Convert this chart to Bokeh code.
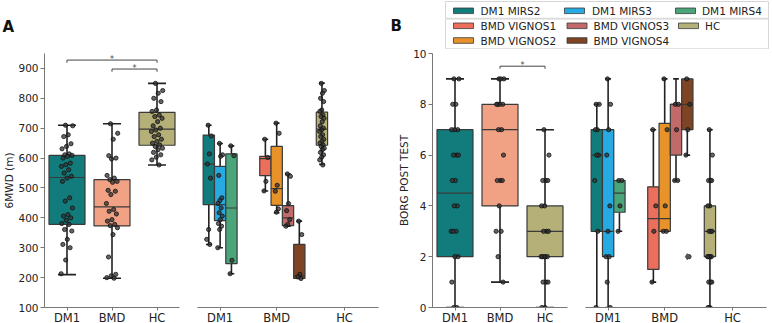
import numpy as np
from bokeh.plotting import figure
from bokeh.layouts import row, column
from bokeh.models import Range1d, FixedTicker, ColumnDataSource
from bokeh.embed import file_html
from bokeh.resources import INLINE
from bokeh.core.properties import value

# ---------------- data ----------------
groups = ["DM1", "BMD", "HC"]
subgroups = ["DM1 MIRS2", "DM1 MIRS3", "DM1 MIRS4",
             "BMD VIGNOS1", "BMD VIGNOS2", "BMD VIGNOS3", "BMD VIGNOS4", "HC"]
group_colors = ["#127c7c", "#f1a284", "#b4b078"]
sub_colors = ["#127c7c", "#27aae1", "#4ba57a", "#ec6f5c",
              "#e8922a", "#c06a6a", "#7e4424", "#b4b078"]

# 6MWD (m) per group: whisker low, Q1, median, Q3, whisker high
mwd_lo = [210, 198, 577]
mwd_q1 = [378, 373, 643]
mwd_med = [535, 437, 697]
mwd_q3 = [609, 528, 753]
mwd_hi = [710, 715, 850]
mwd_pts_dm1 = [710, 708, 678, 672, 648, 639, 631, 614, 611, 609, 606, 600, 583, 578,
               572, 561, 550, 539, 533, 522, 467, 456, 433, 411, 406, 400, 392, 381,
               378, 361, 356, 328, 311, 300, 259, 213]
mwd_pts_bmd = [715, 683, 663, 608, 600, 597, 542, 533, 528, 522, 519, 492, 489, 478,
               448, 428, 422, 413, 394, 389, 378, 374, 367, 344, 269, 211, 206, 200, 198]
mwd_pts_hc = [850, 826, 817, 800, 789, 761, 756, 744, 739, 733, 722, 708, 700, 694,
              689, 678, 672, 663, 656, 650, 644, 639, 633, 628, 619, 611, 603, 594, 577]

# 6MWD per subgroup
mwd_sub_lo = [311, 300, 213, 490, 417, 372, 197, 579]
mwd_sub_q1 = [444, 391, 247, 541, 442, 374, 197, 643]
mwd_sub_med = [580, 444, 433, 598, 498, 400, 206, 697]
mwd_sub_q3 = [677, 572, 614, 606, 639, 441, 311, 754]
mwd_sub_hi = [710, 649, 641, 663, 717, 547, 389, 851]
mwd_sub_pts = [
    [710, 674, 614, 580, 533, 361, 328, 311],
    [649, 611, 606, 542, 467, 458, 448, 433, 417, 406, 394, 381, 372, 361, 300],
    [641, 608, 258, 213],
    [663, 602, 522, 490],
    [717, 683, 509, 489, 430, 419],
    [547, 539, 448, 424, 394, 378, 372],
    [389, 344, 211, 203, 197],
    mwd_pts_hc,
]

# BORG post test per group
borg_lo = [0, 1, 0]
borg_q1 = [2, 4, 2]
borg_med = [4.5, 7, 3]
borg_q3 = [7, 8, 4]
borg_hi = [9, 9, 7]
borg_pts_dm1 = [9, 9, 8, 8, 7, 7, 7, 6, 6, 6, 5, 5, 4, 4, 3, 3, 3, 2, 2, 1, 0, 0]
borg_pts_bmd = [9, 9, 9, 8, 8, 8, 8, 7, 7, 6, 5, 5, 5, 4, 3, 3, 2, 1]
borg_pts_hc = [7, 6, 5, 5, 5, 4, 4, 3, 3, 3, 2, 2, 2, 2, 2, 1, 1, 1, 0, 0]

# BORG per subgroup
borg_sub_lo = [0, 0, 3, 1, 3, 5, 6, 0]
borg_sub_q1 = [3, 2, 3.75, 1.5, 3, 6, 7, 2]
borg_sub_med = [6, 3, 4.5, 3.5, 3.5, 8, 8, 3]
borg_sub_q3 = [7, 7, 5, 4.75, 7.25, 8, 9, 4]
borg_sub_hi = [8, 9, 5, 7, 9, 9, 9, 7]
borg_sub_pts = [
    [8, 8, 7, 7, 6, 6, 5, 3, 0],
    [9, 8, 7, 6, 4, 3, 2, 2, 1, 0],
    [5, 5, 4, 3],
    [7, 4, 3, 1],
    [9, 7, 4, 3, 3],
    [8, 8, 7, 5, 5],
    [9, 8, 7, 6, 2],
    borg_pts_hc,
]
borg_sub_outlier = [None, None, None, None, None, None, 2, None]

# significance brackets: (from group, to group, level)
mwd_sig = [(0, 2, 928), (1, 2, 898)]
borg_sig = [(1, 2, 9.5)]

# ---------------- styling / layout ----------------
FONT = "DejaVu Sans"
EDGE = "#3a3a3a"
AXIS = "#777777"
SUB_SLOTS = [1, 2, 3, 6, 7, 8, 9, 11]     # slot positions of the hue boxes
SUB_TICKS = [2, 7, 13]
FRAME_H = 254


def jit(n, half):
    return [((i * 0.6180339887 + 0.37) % 1.0 - 0.5) * 2 * half for i in range(n)]


def base_fig(frame_w, xr, yr, bl, br):
    p = figure(frame_width=frame_w, frame_height=FRAME_H, x_range=xr, y_range=yr,
               output_backend="svg", toolbar_location=None, title=None,
               min_border_left=bl, min_border_right=br, min_border_top=4,
               min_border_bottom=12)
    p.grid.visible = False
    p.outline_line_color = None
    for ax in p.axis:
        ax.axis_line_color = AXIS
        ax.major_tick_line_color = AXIS
        ax.major_tick_out = 4
        ax.major_tick_in = 0
        ax.minor_tick_line_color = None
        ax.major_label_text_font = FONT
        ax.major_label_text_color = "#222222"
    p.xaxis.major_label_text_font_size = "11.5px"
    p.xaxis.major_label_standoff = 0
    p.xaxis.major_tick_out = 3
    p.yaxis.major_label_text_font_size = "10.5px"
    p.yaxis.major_label_standoff = 2
    return p


def draw_boxes(p, xs, w, lo, q1, med, q3, hi, colors):
    left = [x - w / 2 for x in xs]
    right = [x + w / 2 for x in xs]
    p.segment(x0=xs, y0=q3, x1=xs, y1=hi, line_color="#222222", line_width=1.6)
    p.segment(x0=xs, y0=lo, x1=xs, y1=q1, line_color="#222222", line_width=1.6)
    p.segment(x0=[x - w / 4 for x in xs], y0=hi, x1=[x + w / 4 for x in xs], y1=hi,
              line_color="#222222", line_width=1.6)
    p.segment(x0=[x - w / 4 for x in xs], y0=lo, x1=[x + w / 4 for x in xs], y1=lo,
              line_color="#222222", line_width=1.6)
    p.quad(left=left, right=right, bottom=q1, top=q3, fill_color=colors,
           line_color=EDGE, line_width=1.2)
    p.segment(x0=left, y0=med, x1=right, y1=med, line_color=EDGE, line_width=1.2)


def draw_points(p, x, vals, half):
    xs = [x + o for o in jit(len(vals), half)]
    p.scatter(x=xs, y=vals, size=4.2, fill_color="#333333", fill_alpha=0.75,
              line_color="#111111", line_width=0.8)


def draw_sig(p, sig, drop, fs):
    for a, b, lev in sig:
        p.line(x=[a, a, b, b], y=[lev - drop, lev, lev, lev - drop],
               line_color="#444444", line_width=1)
        p.text(x=[(a + b) / 2], y=[lev], text=["*"], text_align="center",
               text_baseline="alphabetic", text_font=value(FONT),
               text_font_size=fs, text_color="#444444", y_offset=-1)


def left_panel(yr, ticks, lo, q1, med, q3, hi, pts, sig, drop, ylabel, bl, br, half):
    p = base_fig(135, Range1d(-0.5, 2.5), yr, bl, br)
    draw_boxes(p, [0, 1, 2], 0.8, lo, q1, med, q3, hi, group_colors)
    for i, v in enumerate(pts):
        draw_points(p, i, v, half)
    draw_sig(p, sig, drop, "8px")
    p.xaxis.ticker = FixedTicker(ticks=[0, 1, 2])
    p.xaxis.major_label_overrides = {0: groups[0], 1: groups[1], 2: groups[2]}
    p.yaxis.ticker = FixedTicker(ticks=ticks)
    p.yaxis.axis_label = ylabel
    p.yaxis.axis_label_text_font = FONT
    p.yaxis.axis_label_text_font_style = "normal"
    p.yaxis.axis_label_text_font_size = "10.5px"
    p.yaxis.axis_label_text_color = "#222222"
    p.yaxis.axis_label_standoff = 0
    return p


def right_panel(yr, lo, q1, med, q3, hi, pts, bl, br, outliers=None):
    p = base_fig(181, Range1d(0, 16), yr, bl, br)
    draw_boxes(p, SUB_SLOTS, 1.0, lo, q1, med, q3, hi, sub_colors)
    for i, v in enumerate(pts):
        draw_points(p, SUB_SLOTS[i], v, 0.22)
    if outliers:
        ox = [SUB_SLOTS[i] for i, o in enumerate(outliers) if o is not None]
        oy = [o for o in outliers if o is not None]
        p.scatter(x=ox, y=oy, marker="diamond", size=6, fill_color="#555555",
                  line_color="#555555")
    p.xaxis.ticker = FixedTicker(ticks=SUB_TICKS)
    p.xaxis.major_label_overrides = {SUB_TICKS[0]: groups[0], SUB_TICKS[1]: groups[1],
                                     SUB_TICKS[2]: groups[2]}
    p.yaxis.visible = False
    return p


a_left = left_panel(Range1d(100, 950), list(range(100, 1000, 100)),
                    mwd_lo, mwd_q1, mwd_med, mwd_q3, mwd_hi,
                    [mwd_pts_dm1, mwd_pts_bmd, mwd_pts_hc], mwd_sig, 9, "6MWD (m)", 44, 9, 0.13)
a_right = right_panel(Range1d(100, 950), mwd_sub_lo, mwd_sub_q1, mwd_sub_med, mwd_sub_q3,
                      mwd_sub_hi, mwd_sub_pts, 9, 7)
b_left = left_panel(Range1d(0, 10), [0, 2, 4, 6, 8, 10],
                    borg_lo, borg_q1, borg_med, borg_q3, borg_hi,
                    [borg_pts_dm1, borg_pts_bmd, borg_pts_hc], borg_sig, 0.1,
                    "BORG POST TEST", 47, 9, 0.09)
b_right = right_panel(Range1d(0, 10), borg_sub_lo, borg_sub_q1, borg_sub_med, borg_sub_q3,
                      borg_sub_hi, borg_sub_pts, 9, 6, borg_sub_outlier)


def header(w, h):
    p = figure(frame_width=w, frame_height=h, x_range=Range1d(0, w), y_range=Range1d(h, 0),
               output_backend="svg", toolbar_location=None, title=None,
               min_border=0, x_axis_location=None, y_axis_location=None)
    p.grid.visible = False
    p.outline_line_color = None
    return p


HEAD_H = 49
a_head = header(385, HEAD_H)
a_head.text(x=[2], y=[26], text=["A"], text_font=value(FONT), text_font_style="bold",
            text_font_size="15px", text_baseline="alphabetic", text_color="#111111")

b_head = header(387, HEAD_H)
b_head.text(x=[5], y=[25.7], text=["B"], text_font=value(FONT), text_font_style="bold",
            text_font_size="15px", text_baseline="alphabetic", text_color="#111111")
# legend frames
b_head.quad(left=[60, 60], right=[383, 383], top=[1, 18.5], bottom=[17.8, 48.3],
            fill_color="white", fill_alpha=0.85, line_color="#d6d6d6", line_width=1)
# legend entries: (subgroup index, patch left, text x, row y)
leg_items = [(0, 68, 95, 10.3), (1, 179, 206.5, 10.3), (2, 290, 316.5, 10.3),
             (3, 68, 95, 25.3), (4, 68, 95, 40.0),
             (5, 181.5, 208, 25.3), (6, 181.5, 208, 40.0), (7, 293, 319.5, 25.3)]
b_head.quad(left=[it[1] for it in leg_items], right=[it[1] + 20 for it in leg_items],
            top=[it[3] - 2.8 for it in leg_items], bottom=[it[3] + 2.8 for it in leg_items],
            fill_color=[sub_colors[it[0]] for it in leg_items], line_color=EDGE, line_width=0.8)
b_head.text(x=[it[2] for it in leg_items], y=[it[3] for it in leg_items],
            text=[subgroups[it[0]] for it in leg_items], text_font=value(FONT),
            text_font_size="10.5px", text_baseline="middle", text_color="#222222")

layout = row(
    column(a_head, row(a_left, a_right, spacing=0), spacing=0),
    column(b_head, row(b_left, b_right, spacing=0), spacing=0),
    spacing=0,
)

open("out.html", "w").write(file_html(layout, INLINE))
